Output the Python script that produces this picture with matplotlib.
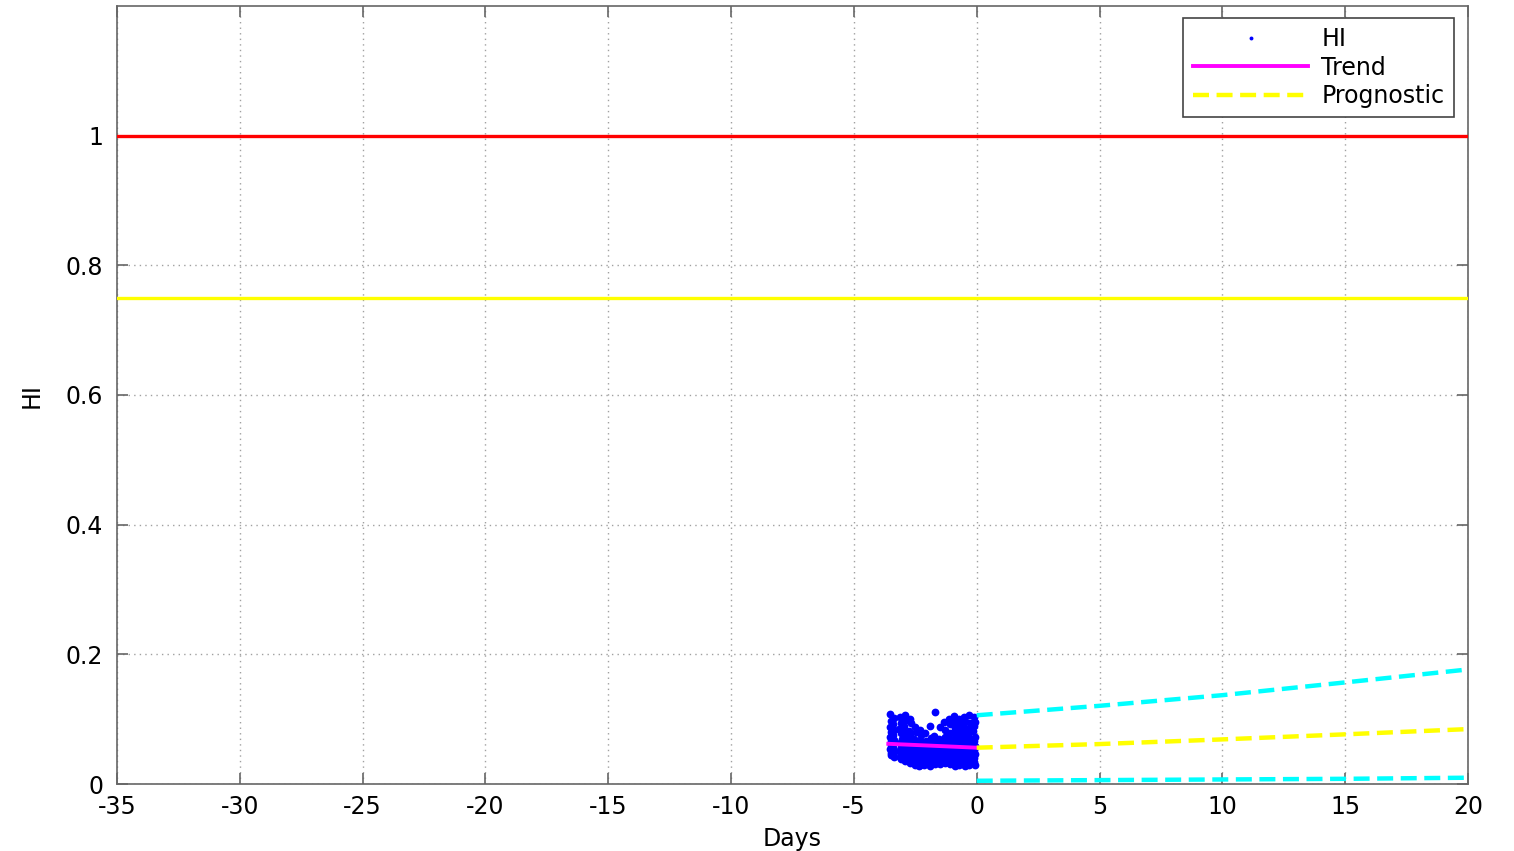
import matplotlib
matplotlib.use("Agg")
import matplotlib.pyplot as plt
from matplotlib.ticker import FuncFormatter

plt.rcParams['font.family'] = ['DejaVu Sans']

# ---- data ----
hi_x = [
    -3.52, -3.50, -3.55, -3.48, -3.53, -3.50, -3.47, -3.52, -3.49, -3.51,
    -3.38, -3.40, -3.36, -3.41, -3.37, -3.42, -3.39, -3.35, -3.40, -3.38,
    -3.12, -3.08, -3.15, -3.10, -3.06, -3.13, -3.09, -3.11, -3.07, -3.14, -3.10,
    -2.92, -2.88, -2.95, -2.90, -2.86, -2.93, -2.89, -2.91, -2.87, -2.94, -2.90,
    -2.72, -2.68, -2.74, -2.70, -2.66, -2.73, -2.69, -2.71, -2.67, -2.72, -2.70,
    -2.52, -2.48, -2.55, -2.50, -2.46, -2.53, -2.49, -2.51, -2.47, -2.50,
    -2.32, -2.28, -2.30, -2.27, -2.33, -2.29, -2.31, -2.26, -2.30, -2.34,
    -2.12, -2.08, -2.10, -2.14, -2.07, -2.11, -2.09, -2.13,
    -1.92, -1.88, -1.90, -1.94, -1.87, -1.91, -1.89, -1.93, -1.90,
    -1.70, -1.72, -1.68, -1.71, -1.67, -1.73, -1.69, -1.70,
    -1.50, -1.52, -1.48, -1.51, -1.47, -1.53, -1.49, -1.50,
    -1.32, -1.28, -1.30, -1.34, -1.27, -1.31, -1.29, -1.33, -1.30,
    -1.12, -1.08, -1.10, -1.14, -1.07, -1.11, -1.09, -1.13, -1.06, -1.10,
    -0.92, -0.88, -0.90, -0.94, -0.87, -0.91, -0.89, -0.93, -0.86, -0.90, -0.92, -0.88,
    -0.72, -0.68, -0.70, -0.74, -0.67, -0.71, -0.69, -0.73, -0.66, -0.70, -0.72,
    -0.52, -0.48, -0.50, -0.54, -0.47, -0.51, -0.49, -0.53, -0.46, -0.50, -0.52, -0.48,
    -0.32, -0.28, -0.30, -0.34, -0.27, -0.31, -0.29, -0.33, -0.26, -0.30, -0.32,
    -0.12, -0.08, -0.10, -0.14, -0.07, -0.11, -0.09, -0.13, -0.06, -0.10, -0.12, -0.08,
]
hi_y = [
    0.108, 0.097, 0.088, 0.080, 0.072, 0.066, 0.060, 0.054, 0.048, 0.044,
    0.102, 0.092, 0.084, 0.076, 0.068, 0.062, 0.056, 0.050, 0.046, 0.042,
    0.104, 0.094, 0.085, 0.078, 0.070, 0.064, 0.057, 0.052, 0.047, 0.041, 0.038,
    0.106, 0.098, 0.090, 0.082, 0.073, 0.066, 0.059, 0.053, 0.045, 0.039, 0.035,
    0.100, 0.094, 0.081, 0.075, 0.068, 0.061, 0.055, 0.049, 0.043, 0.037, 0.033,
    0.088, 0.080, 0.070, 0.063, 0.058, 0.051, 0.045, 0.039, 0.034, 0.030,
    0.084, 0.076, 0.068, 0.060, 0.053, 0.047, 0.041, 0.035, 0.030, 0.027,
    0.079, 0.066, 0.059, 0.052, 0.046, 0.040, 0.034, 0.029,
    0.090, 0.071, 0.063, 0.057, 0.050, 0.044, 0.038, 0.032, 0.028,
    0.111, 0.074, 0.065, 0.056, 0.049, 0.043, 0.037, 0.031,
    0.088, 0.069, 0.061, 0.054, 0.048, 0.042, 0.036, 0.031,
    0.096, 0.083, 0.072, 0.064, 0.057, 0.051, 0.045, 0.039, 0.033,
    0.100, 0.092, 0.078, 0.070, 0.062, 0.055, 0.049, 0.043, 0.036, 0.031,
    0.105, 0.096, 0.087, 0.079, 0.071, 0.063, 0.056, 0.050, 0.044, 0.038, 0.032, 0.028,
    0.101, 0.091, 0.083, 0.074, 0.066, 0.059, 0.052, 0.046, 0.040, 0.034, 0.029,
    0.104, 0.097, 0.088, 0.080, 0.072, 0.065, 0.058, 0.051, 0.045, 0.039, 0.033, 0.027,
    0.106, 0.094, 0.085, 0.077, 0.069, 0.062, 0.055, 0.048, 0.042, 0.036, 0.030,
    0.103, 0.096, 0.089, 0.081, 0.073, 0.066, 0.059, 0.052, 0.046, 0.040, 0.034, 0.029,
]

trend_x = [-3.6, 0.0]
trend_y = [0.062, 0.056]

prog_x = [0, 5, 10, 15, 20]
prog_mid = [0.056, 0.0616, 0.0688, 0.0766, 0.0847]
prog_upper = [0.106, 0.1206, 0.137, 0.1567, 0.1767]
prog_lower = [0.005, 0.006, 0.007, 0.008, 0.0097]

failure_threshold = 1.0
alarm_threshold = 0.75

x_ticks = [-35, -30, -25, -20, -15, -10, -5, 0, 5, 10, 15, 20]
y_ticks = [0, 0.2, 0.4, 0.6, 0.8, 1.0]

# ---- plot ----
fig = plt.figure(figsize=(15.14, 8.51), dpi=100)
ax = fig.add_axes([117/1514, 67/851, 1351/1514, 778/851])

ax.axhline(failure_threshold, color='#ff0000', lw=2.4, zorder=3)
ax.axhline(alarm_threshold, color='#ffff00', lw=2.4, zorder=3)

ax.plot(hi_x, hi_y, linestyle='none', marker='o', ms=5.6, mfc='#0000ff',
        mec='#0000ff', mew=0, label='HI', zorder=4)
ax.plot(trend_x, trend_y, color='#ff00ff', lw=2.8, label='Trend', zorder=5)
dash = (0, (3.6, 1.7))
ax.plot(prog_x, prog_mid, color='#ffff00', lw=3.2, ls=dash,
        label='Prognostic', zorder=5)
ax.plot(prog_x, prog_upper, color='#00ffff', lw=3.2, ls=dash, zorder=5)
ax.plot(prog_x, prog_lower, color='#00ffff', lw=3.2, ls=dash, zorder=5)

ax.set_xlim(-35, 20)
ax.set_ylim(0, 1.2)
ax.set_xticks(x_ticks)
ax.set_yticks(y_ticks)

def fmt(v, pos):
    return '%g' % round(v, 6)
ax.xaxis.set_major_formatter(FuncFormatter(fmt))
ax.yaxis.set_major_formatter(FuncFormatter(fmt))

ax.grid(True, color='#a0a0a0', ls=(0, (1, 3)), lw=1.0)
ax.set_axisbelow(True)
ax.tick_params(direction='in', length=8, width=1.2, color='#666666',
               labelsize=17, top=True, right=True)
ax.tick_params(axis='x', pad=8)
ax.tick_params(axis='y', pad=10)
for s in ax.spines.values():
    s.set_color('#666666')
    s.set_linewidth(1.2)

ax.set_xlabel('Days', fontsize=17, labelpad=6)
ax.set_ylabel('HI', fontsize=17, labelpad=16)

leg = ax.legend(loc='upper right', bbox_to_anchor=(0.9896, 0.9846), fontsize=17,
                frameon=True, fancybox=False, edgecolor='#444444',
                framealpha=1, handlelength=4.9, borderpad=0.4,
                borderaxespad=0, labelspacing=0.18, handletextpad=0.55,
                markerscale=0.5)
leg.get_frame().set_linewidth(1.2)

fig.savefig('out.png', dpi=100)
